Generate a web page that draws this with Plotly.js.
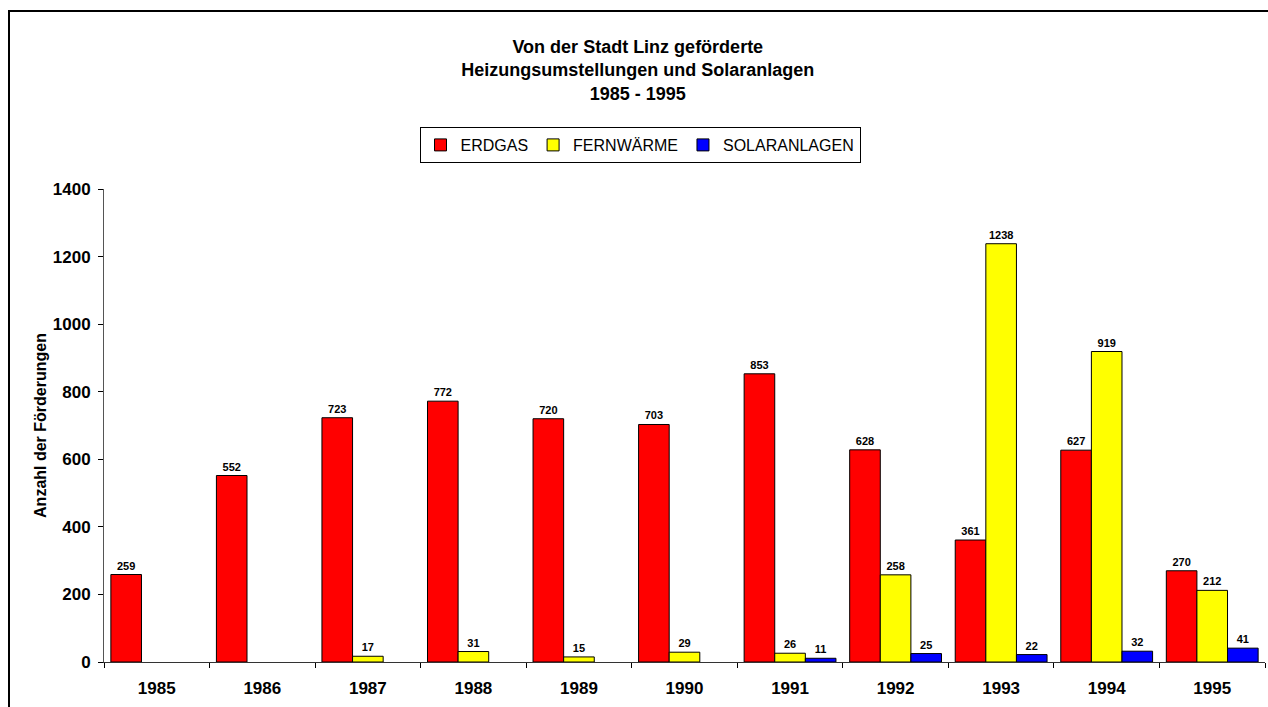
<!DOCTYPE html>
<html>
<head>
<meta charset="utf-8">
<script src="https://cdn.plot.ly/plotly-3.0.1.min.js"></script>
<style>
  html, body { margin: 0; padding: 0; background: #fff; }
  #wrap { position: relative; width: 1268px; height: 707px; }
  #chart { position: absolute; left: 0; top: 0; width: 1268px; height: 707px; }
  #frame { position: absolute; left: 8px; top: 10px; width: 1300px; height: 800px;
           border-left: 2px solid #000; border-top: 2px solid #000; pointer-events: none; }
</style>
</head>
<body>
<div id="wrap">
  <div id="chart"></div>
  <div id="frame"></div>
</div>
<script>
const years = ["1985","1986","1987","1988","1989","1990","1991","1992","1993","1994","1995"];
const erdgas = [259, 552, 723, 772, 720, 703, 853, 628, 361, 627, 270];
const fernwaerme = [null, null, 17, 31, 15, 29, 26, 258, 1238, 919, 212];
const solaranlagen = [null, null, null, null, null, null, 11, 25, 22, 32, 41];
const seriesNames = ["ERDGAS", "FERNWÄRME", "SOLARANLAGEN"];
const seriesColors = ["#FF0000", "#FFFF00", "#0000FF"];
const yTicks = [0, 200, 400, 600, 800, 1000, 1200, 1400];

const FONT = "Liberation Sans, Arial, sans-serif";
const allSeries = [erdgas, fernwaerme, solaranlagen];
const traces = allSeries.map((vals, i) => ({
  type: "bar",
  name: seriesNames[i],
  x: years,
  y: vals,
  text: vals.map(v => v == null ? "" : String(v)),
  textposition: "outside",
  cliponaxis: false,
  textfont: { family: FONT, size: 11, color: "#000", weight: "bold" },
  marker: { color: seriesColors[i], line: { color: "#000", width: 1 } },
  hoverinfo: "x+y+name"
}));

const layout = {
  width: 1268, height: 707,
  paper_bgcolor: "#fff", plot_bgcolor: "#fff",
  margin: { l: 104, r: 3, t: 189, b: 45, pad: 0 },
  font: { family: FONT, color: "#000" },
  title: {
    text: "Von der Stadt Linz geförderte<br>Heizungsumstellungen und Solaranlagen<br>1985 - 1995",
    font: { family: FONT, size: 18, color: "#000", weight: "bold" },
    x: 0.503, xref: "container", xanchor: "center",
    y: 1 - 53/707, yref: "container", yanchor: "middle"
  },
  barmode: "group",
  bargap: 0.13,
  bargroupgap: 0,
  showlegend: true,
  legend: {
    orientation: "h",
    x: 640/1268, xref: "container", xanchor: "center",
    y: 1 - 127/707, yref: "container", yanchor: "top",
    bordercolor: "#000", borderwidth: 1, bgcolor: "#fff",
    font: { family: FONT, size: 16, color: "#000" },
    traceorder: "normal",
    itemwidth: 30
  },
  xaxis: {
    type: "category",
    tickson: "boundaries",
    ticks: "outside", ticklen: 5, tickcolor: "#000", tickwidth: 1,
    showline: true, linecolor: "#333", linewidth: 1,
    showgrid: false, zeroline: false,
    tickfont: { family: FONT, size: 17, color: "#000", weight: "bold" },
    ticklabelstandoff: 11,
    fixedrange: true
  },
  xaxis2: {
    overlaying: "x", anchor: "y", type: "linear",
    range: [-0.5, years.length - 0.5],
    tick0: -0.5, dtick: 1, tickmode: "linear",
    ticks: "inside", ticklen: 5, tickcolor: "#000",
    showticklabels: false, showline: false, showgrid: false, zeroline: false
  },
  yaxis: {
    range: [0, 1400],
    tickvals: yTicks,
    ticktext: yTicks.map(String),
    ticks: "outside", ticklen: 5, tickcolor: "#000", tickwidth: 1,
    showline: true, linecolor: "#555", linewidth: 1,
    showgrid: false, zeroline: false,
    tickfont: { family: FONT, size: 17, color: "#000", weight: "bold" },
    ticklabelstandoff: 4,
    title: {
      text: "Anzahl der Förderungen",
      font: { family: FONT, size: 16, color: "#000", weight: "bold" },
      standoff: 2
    },
    fixedrange: true
  },
  yaxis2: {
    overlaying: "y", anchor: "x", side: "left",
    range: [0, 1400],
    tickvals: yTicks,
    ticks: "inside", ticklen: 5, tickcolor: "#000",
    showticklabels: false, showline: false, showgrid: false, zeroline: false
  }
};

Plotly.newPlot("chart", traces, layout, { displayModeBar: false, staticPlot: false });
</script>
</body>
</html>
